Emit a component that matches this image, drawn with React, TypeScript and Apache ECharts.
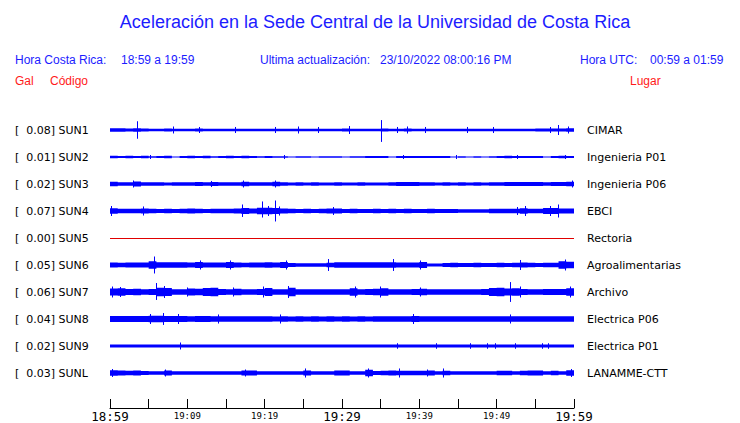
import React, { useEffect, useRef } from "react";
import * as echarts from "echarts";

// ---- data ----
const STATION_CODES = ["SUN1", "SUN2", "SUN3", "SUN4", "SUN5", "SUN6", "SUN7", "SUN8", "SUN9", "SUNL"];
const PEAK_GAL = [0.08, 0.01, 0.02, 0.07, 0.0, 0.05, 0.06, 0.04, 0.02, 0.03];
const PLACES = ["CIMAR", "Ingenieria P01", "Ingenieria P06", "EBCI", "Rectoria", "Agroalimentarias", "Archivo", "Electrica P06", "Electrica P01", "LANAMME-CTT"];
const TICK_LABELS = ["18:59", "", "19:09", "", "19:19", "", "19:29", "", "19:39", "", "19:49", "", "19:59"];
const MAJOR_TICKS = ["18:59", "19:29", "19:59"];

// per-minute envelope half-amplitude of each trace (in 34ths of a row)
const ENV_SUN1 = [2.3,2.1,2.0,2.1,1.8,1.7,1.7,1.8,1.6,1.7, 1.7,1.8,1.6,1.7,1.7,1.6,1.7,1.7,1.6,1.7, 1.7,1.7,1.6,1.7,1.7,1.7,1.6,1.7,1.7,1.7, 1.8,1.7,1.7,1.7,1.7,1.8,1.7,1.7,1.8,1.7, 1.7,1.7,1.7,1.6,1.7,1.7,1.7,1.7,1.7,1.7, 1.7,1.7,1.7,1.7,1.7,1.8,1.9,2.0,1.9,2.1];
const ENV_SUN2 = [1.5,1.4,1.5,1.3,1.5,1.0,1.4,1.5,0.7,1.4, 1.5,1.4,1.5,1.0,1.4,1.5,1.4,1.5,1.3,1.1, 1.2,1.0,0.8,0.7,0.8,1.1,0.7,1.0,0.8,1.1, 0.7,1.0,0.8,1.3,1.4,1.2,0.6,1.3,1.4,1.3, 1.4,1.4,1.3,1.4,0.7,0.8,0.6,0.9,0.7,0.8, 1.4,1.5,1.3,1.4,1.4,1.3,0.7,1.4,1.5,1.4];
const ENV_SUN3 = [2.8,2.3,2.2,3.0,2.3,2.1,2.2,2.0,2.2,2.1, 2.2,2.5,2.1,2.5,2.2,2.1,2.2,2.9,2.2,2.1, 2.2,2.8,2.1,2.0,2.1,2.0,2.1,2.0,2.0,2.1, 2.0,2.0,2.1,2.0,2.0,2.0,2.1,2.5,2.4,2.5, 2.3,2.1,2.0,2.1,2.0,2.1,2.0,2.1,2.0,2.1, 2.1,2.5,2.4,2.5,2.4,2.5,2.1,2.5,2.5,2.9];
const ENV_SUN4 = [3.5,2.8,2.7,2.8,3.3,2.7,2.6,2.7,2.6,2.7, 3.0,2.7,2.6,2.7,2.8,2.7,3.2,3.8,3.0,4.0, 4.2,3.8,3.0,2.7,2.6,2.7,2.6,2.7,3.3,3.2, 2.6,2.7,2.6,2.6,2.7,2.6,2.7,2.6,2.7,2.6, 2.6,2.7,2.6,2.5,2.4,2.3,2.3,2.2,2.3,2.8, 2.8,2.9,2.8,3.5,2.9,2.9,3.8,3.9,3.0,3.0];
const ENV_SUN5 = [0,0,0,0,0,0,0,0,0,0, 0,0,0,0,0,0,0,0,0,0, 0,0,0,0,0,0,0,0,0,0, 0,0,0,0,0,0,0,0,0,0, 0,0,0,0,0,0,0,0,0,0, 0,0,0,0,0,0,0,0,0,0];
const ENV_SUN6 = [3.2,2.9,3.0,3.1,3.3,4.8,3.6,3.4,3.5,3.4, 3.0,3.9,3.0,3.1,3.0,3.9,3.0,2.9,3.0,3.1, 3.5,3.0,3.8,2.4,2.3,2.2,2.3,2.2,2.8,3.4, 3.5,3.4,3.5,3.6,3.5,3.6,3.5,3.0,3.1,3.0, 3.8,1.8,1.9,2.6,2.7,2.6,2.6,2.7,2.6,2.6, 2.7,2.6,2.7,3.3,2.7,2.6,2.7,2.7,4.8,4.0];
const ENV_SUN7 = [4.5,4.8,3.8,4.2,3.5,3.8,5.5,5.0,3.6,3.4, 4.5,4.0,5.0,5.2,3.8,3.5,4.2,3.6,3.5,3.8, 5.0,3.6,3.5,5.2,3.6,3.4,3.5,3.4,3.6,3.5, 3.6,4.8,3.6,3.8,4.0,4.8,3.6,3.5,3.6,3.8, 4.0,3.6,3.5,3.6,3.5,3.4,3.5,3.6,3.9,5.0, 5.2,4.5,4.8,3.8,3.6,3.5,3.8,3.7,3.8,4.8];
const ENV_SUN8 = [3.8,3.7,3.9,3.8,3.8,4.0,4.1,3.9,3.8,3.7, 3.6,3.8,3.7,3.6,3.6,3.5,3.6,3.5,3.4,3.5, 3.4,3.3,3.4,3.3,3.4,3.3,3.4,3.3,3.4,3.3, 3.4,3.3,3.4,3.3,3.4,3.5,3.4,3.5,3.6,3.8, 3.5,3.4,3.5,3.4,3.5,3.4,3.5,3.4,3.5,3.6, 3.4,3.6,3.5,3.4,3.5,3.4,3.5,3.4,3.5,3.6];
const ENV_SUN9 = [2.0,1.9,1.9,1.8,1.9,1.8,1.8,1.9,1.8,1.9, 1.8,1.8,1.9,1.8,1.8,1.8,1.9,1.8,1.8,1.8, 1.8,1.9,1.8,1.8,1.8,1.8,1.8,1.9,1.8,1.8, 1.8,1.8,1.8,1.8,1.9,1.8,1.8,1.9,1.8,1.8, 1.8,1.8,1.9,1.8,1.8,1.8,1.8,1.8,1.8,1.9, 1.8,1.8,1.8,1.8,1.8,1.8,1.9,1.8,1.8,1.9];
const ENV_SUNL = [3.5,3.0,2.8,3.1,2.5,2.3,2.3,3.2,2.3,2.2, 2.2,2.3,2.2,2.2,2.3,2.2,2.2,3.3,3.0,2.2, 2.2,2.3,2.2,2.2,2.3,3.0,2.2,2.3,2.2,3.0, 3.0,2.2,2.3,4.0,2.4,2.9,3.0,2.9,2.8,2.9, 2.9,3.0,2.3,2.9,2.2,2.2,2.3,2.2,2.2,2.3, 2.9,2.9,2.2,2.9,3.2,3.1,2.3,2.9,2.3,3.6];

// spikes: [minute, upward deflection, downward deflection] (in 34ths of a row)
const SPK_SUN1 = [[3.5,11,11],[8.1,4.4,4.4],[11.5,3.8,3.8],[16.2,3.8,3.8],[21.3,3.8,3.8],[24.3,4.4,4.4],[26.9,3.8,3.8],[30.9,5,5],[35.0,12.5,15],[37.1,3.8,3.8],[38.4,4.4,4.4],[40.7,3.8,3.8],[46.2,3.8,3.8],[49.5,3.8,3.8],[56.9,3.8,3.8],[57.9,6.3,6.3],[59.2,4.4,4.4]];
const SPK_SUN2 = [[5.2,2.5,2.5],[22.5,2.5,2.5],[37.9,2.5,2.5],[44.7,2.5,2.5],[52.6,2.5,2.5],[58.8,2.5,2.5]];
const SPK_SUN3 = [[3.0,4.4,4.4],[13.0,3.8,3.8],[17.2,4.4,4.4],[21.3,4.4,4.4],[59.8,4.4,4.4]];
const SPK_SUN4 = [[0.1,6.3,6.3],[4.3,5.7,5.7],[17.1,8.2,7.5],[19.7,12,8.2],[20.4,6.3,6.3],[21.3,13.2,13.2],[21.8,5.7,5.7],[28.8,5,5],[52.6,5,5],[53.7,6.3,6.3],[56.9,6.3,6.3],[57.9,8.2,8.2]];
const SPK_SUN5: number[][] = [];
const SPK_SUN6 = [[5.7,10.7,10.7],[11.6,5.7,5.7],[15.5,5.7,5.7],[22.7,5.7,5.7],[28.2,7.5,7.5],[36.6,7.5,7.5],[40.1,5.7,5.7],[53.0,6.3,6.3],[58.8,6.9,6.9]];
const SPK_SUN7 = [[0.2,6.9,6.9],[1.3,6.3,6.3],[5.9,11.3,10],[7.0,7.5,7.5],[10.0,5.7,5.7],[15.9,5.7,5.7],[19.8,6.9,6.9],[23.0,7.5,7.5],[31.7,6.9,6.9],[34.9,6.9,6.9],[40.1,5.7,5.7],[51.7,12.5,12.5],[53.0,6.9,6.9],[59.5,6.9,6.9]];
const SPK_SUN8 = [[5.2,6.3,6.3],[6.9,7.5,7.5],[8.8,6.3,6.3],[14.0,5.7,5.7],[22.0,5.7,5.7],[39.2,6.3,6.3],[51.7,5.7,5.7]];
const SPK_SUN9 = [[9.0,4.4,4.4],[37.1,3.5,3.5],[42.2,3.5,3.5],[46.6,3.5,3.5],[48.8,3.5,3.5],[49.8,3.5,3.5],[52.4,3.5,3.5],[55.9,3.5,3.5],[56.7,3.5,3.5]];
const SPK_SUNL = [[0.3,5,5],[7.1,4.4,4.4],[17.5,4.4,4.4],[25.2,5.7,5.7],[33.3,5.7,5.7],[37.4,5.7,5.7],[41.0,4.4,4.4],[43.0,5.7,5.7],[59.6,5,5]];

const ENVELOPES = [ENV_SUN1, ENV_SUN2, ENV_SUN3, ENV_SUN4, ENV_SUN5, ENV_SUN6, ENV_SUN7, ENV_SUN8, ENV_SUN9, ENV_SUNL];
const SPIKES = [SPK_SUN1, SPK_SUN2, SPK_SUN3, SPK_SUN4, SPK_SUN5, SPK_SUN6, SPK_SUN7, SPK_SUN8, SPK_SUN9, SPK_SUNL];
const UNITS_PER_ROW = 34;

const BLUE_TEXT = "#1c1cff";
const TRACE = "#0000ff";
const RED = "#ff1a1a";
const LINE_RED = "#e00000";

export default function App() {
  const ref = useRef<HTMLDivElement>(null);
  useEffect(() => {
    if (!ref.current) return;
    const chart = echarts.init(ref.current, undefined, { renderer: "svg" });

    const leftLabels = STATION_CODES.map((c, i) => `[  ${PEAK_GAL[i].toFixed(2)}] ${c}`);

    const renderItem = (params: any, api: any) => {
      const idx = params.dataIndex;
      const env = ENVELOPES[idx];
      const spikes = SPIKES[idx];
      const band = Math.abs(api.size([0, 1])[1]);
      const k = band / UNITS_PER_ROW;
      const center = api.coord([0, idx])[1];
      const children: any[] = [];
      const maxA = Math.max(...env);
      if (maxA === 0) {
        const p0 = api.coord([0, idx]);
        const p1 = api.coord([env.length, idx]);
        const y = Math.round(center) + 0.5;
        children.push({
          type: "line",
          shape: { x1: p0[0], y1: y, x2: p1[0], y2: y },
          style: { stroke: LINE_RED, lineWidth: 1 },
        });
        return { type: "group", children };
      }
      const upper: number[][] = [];
      const lower: number[][] = [];
      for (let i = 0; i < env.length; i++) {
        const xa = api.coord([i, idx])[0];
        const xb = api.coord([i + 1, idx])[0];
        const a = Math.max(env[i] * k, 0.5);
        upper.push([xa, center - a], [xb, center - a]);
        lower.push([xa, center + a], [xb, center + a]);
      }
      children.push({
        type: "polygon",
        shape: { points: upper.concat(lower.reverse()) },
        style: { fill: TRACE },
      });
      spikes.forEach((s) => {
        const x = Math.round(api.coord([s[0], idx])[0]) + 0.5;
        children.push({
          type: "line",
          shape: { x1: x, y1: center - s[1] * k, x2: x, y2: center + s[2] * k },
          style: { stroke: TRACE, lineWidth: 1 },
        });
      });
      return { type: "group", children };
    };

    const headerFont = { fontFamily: "Liberation Sans", fontSize: 12 };

    chart.setOption({
      animation: false,
      backgroundColor: "#ffffff",
      grid: [
        { left: 110, right: 166, top: 116.5, height: 270 },
        { left: 110, right: 166, top: 400, height: 9 },
      ],
      xAxis: [
        { gridIndex: 0, type: "value", min: 0, max: 60, show: false },
        {
          gridIndex: 1,
          type: "value",
          min: 0,
          max: 60,
          interval: 5,
          axisLine: { show: true, lineStyle: { color: "#000", width: 1 } },
          axisTick: { show: true, inside: true, length: 9, lineStyle: { color: "#000", width: 1 } },
          splitLine: { show: false },
          axisLabel: {
            show: true,
            margin: 2,
            showMinLabel: true,
            showMaxLabel: true,
            hideOverlap: false,
            formatter: (v: number) => {
              const s = TICK_LABELS[Math.round(v / 5)];
              if (!s) return "";
              return MAJOR_TICKS.includes(s) ? `{big|${s}}` : `{small|${s}}`;
            },
            rich: {
              big: { fontFamily: "DejaVu Sans Mono", fontSize: 12.5, color: "#000" },
              small: { fontFamily: "DejaVu Sans Mono", fontSize: 9, color: "#000", padding: [1, 0, 0, 0] },
            },
          },
        },
      ],
      yAxis: [
        {
          gridIndex: 0,
          type: "category",
          inverse: true,
          data: leftLabels,
          position: "left",
          axisLine: { show: false },
          axisTick: { show: false },
          splitLine: { show: false },
          axisLabel: {
            align: "left",
            margin: 95,
            fontFamily: "DejaVu Sans",
            fontSize: 11,
            color: "#000",
          },
        },
        {
          gridIndex: 0,
          type: "category",
          inverse: true,
          data: PLACES,
          position: "right",
          axisLine: { show: false },
          axisTick: { show: false },
          splitLine: { show: false },
          axisLabel: {
            align: "left",
            margin: 13,
            fontFamily: "DejaVu Sans",
            fontSize: 11,
            color: "#000",
          },
        },
        { gridIndex: 1, type: "value", show: false },
      ],
      graphic: [
        {
          type: "text",
          x: 375,
          y: 22,
          style: {
            text: "Aceleración en la Sede Central de la Universidad de Costa Rica",
            fontFamily: "Liberation Sans",
            fontSize: 18,
            fill: BLUE_TEXT,
            align: "center",
            verticalAlign: "middle",
          },
        },
        { type: "text", x: 15, y: 60, style: { text: "Hora Costa Rica:", ...headerFont, fill: BLUE_TEXT, verticalAlign: "middle" } },
        { type: "text", x: 121, y: 60, style: { text: "18:59 a 19:59", ...headerFont, fill: BLUE_TEXT, verticalAlign: "middle" } },
        { type: "text", x: 260, y: 60, style: { text: "Ultima actualización:", ...headerFont, fill: BLUE_TEXT, verticalAlign: "middle" } },
        { type: "text", x: 380, y: 60, style: { text: "23/10/2022 08:00:16 PM", ...headerFont, fill: BLUE_TEXT, verticalAlign: "middle" } },
        { type: "text", x: 580, y: 60, style: { text: "Hora UTC:", ...headerFont, fill: BLUE_TEXT, verticalAlign: "middle" } },
        { type: "text", x: 650, y: 60, style: { text: "00:59 a 01:59", ...headerFont, fill: BLUE_TEXT, verticalAlign: "middle" } },
        { type: "text", x: 15, y: 81, style: { text: "Gal", ...headerFont, fill: RED, verticalAlign: "middle" } },
        { type: "text", x: 50, y: 81, style: { text: "Código", ...headerFont, fill: RED, verticalAlign: "middle" } },
        { type: "text", x: 630, y: 81, style: { text: "Lugar", ...headerFont, fill: RED, verticalAlign: "middle" } },
      ],
      series: [
        {
          type: "custom",
          coordinateSystem: "cartesian2d",
          xAxisIndex: 0,
          yAxisIndex: 0,
          clip: false,
          silent: true,
          data: STATION_CODES.map((_, i) => [0, i]),
          renderItem,
        },
      ],
    });
    return () => chart.dispose();
  }, []);
  return <div ref={ref} style={{ width: 740, height: 423, position: "absolute", left: 0, top: 0 }} />;
}
